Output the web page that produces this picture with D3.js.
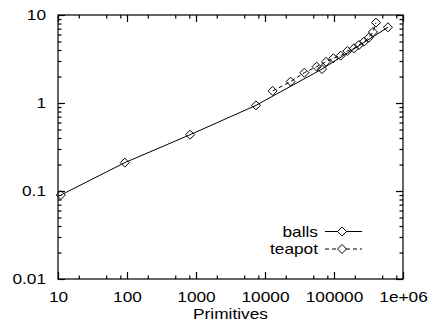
<!DOCTYPE html>
<html>
<head>
<meta charset="utf-8">
<script src="https://cdn.jsdelivr.net/npm/d3@7"></script>
<style>
    html, body { margin: 0; padding: 0; background: #fff; }
    svg { display: block; }
    text { font-family: "Liberation Sans", Arial, Helvetica, sans-serif; font-size: 15px; fill: #000; }
</style>
</head>
<body>
<div id="chart"></div>
<script>
// balls (solid line)
var ballsX = [11, 93, 820, 7400, 67000, 605000];
var ballsY = [0.09, 0.21, 0.436, 0.94, 2.43, 7.25];

// teapot (dashed line)
var teapotX = [12900, 23500, 37200, 56100, 76600, 97700, 125000, 156000, 195000, 230000, 272000, 318000, 367000, 406000];
var teapotY = [1.37, 1.75, 2.21, 2.59, 2.94, 3.22, 3.45, 3.90, 4.19, 4.56, 4.97, 5.52, 6.41, 8.2];

var xTicks = [10, 100, 1000, 10000, 100000, 1000000];
var xTickLabels = ['10', '100', '1000', '10000', '100000', '1e+06'];
var yTicks = [0.01, 0.1, 1, 10];
var yTickLabels = ['0.01', '0.1', '1', '10'];
var xMinorSteps = [2, 5, 8];
var yMinorSteps = [2, 3, 4, 5, 6, 7, 8, 9];

var seriesNames = ['balls', 'teapot'];

var W = 430, H = 327;
var plot = {left: 58, right: 403, top: 15, bottom: 279};
var stretch = 1.15; // the reference font is a bit wide

var svg = d3.select('#chart')
    .append('svg')
    .attr('width', W)
    .attr('height', H)
    ;

var x = d3.scaleLog().domain([10, 1e6]).range([plot.left, plot.right]);
var y = d3.scaleLog().domain([0.01, 10]).range([plot.bottom, plot.top]);

function minorTicks(majors, steps) {
    var out = [];
    majors.slice(0, -1).forEach(function(m) {
        steps.forEach(function(s) { out.push(m * s); });
    });
    return out;
}

function widen(sel) {
    sel.each(function() {
        var len = this.getComputedTextLength();
        d3.select(this)
            .attr('textLength', len * stretch)
            .attr('lengthAdjust', 'spacingAndGlyphs');
    });
}

// frame
svg.append('rect')
    .attr('x', plot.left)
    .attr('y', plot.top)
    .attr('width', plot.right - plot.left)
    .attr('height', plot.bottom - plot.top)
    .attr('fill', 'none')
    .attr('stroke', '#000')
    .attr('stroke-width', 1.2)
    ;

function addAxis(axis, tx, ty) {
    var g = svg.append('g')
        .attr('transform', 'translate(' + tx + ',' + ty + ')')
        .call(axis);
    g.select('.domain').remove();
    g.selectAll('line').attr('stroke', '#000').attr('stroke-width', 1.2);
    g.selectAll('text').style('font-size', null).attr('font-family', null).attr('fill', '#000');
    return g;
}

// bottom & top
var xb = addAxis(d3.axisBottom(x).tickValues(xTicks).tickSize(-7).tickPadding(12)
    .tickFormat(function(d, i) { return xTickLabels[i]; }), 0, plot.bottom);
xb.selectAll('text').call(widen);
addAxis(d3.axisBottom(x).tickValues(minorTicks(xTicks, xMinorSteps)).tickSize(-3.5).tickFormat(''), 0, plot.bottom);
addAxis(d3.axisTop(x).tickValues(xTicks).tickSize(-7).tickFormat(''), 0, plot.top);
addAxis(d3.axisTop(x).tickValues(minorTicks(xTicks, xMinorSteps)).tickSize(-3.5).tickFormat(''), 0, plot.top);

// left & right
var yl = addAxis(d3.axisLeft(y).tickValues(yTicks).tickSize(-7).tickPadding(12)
    .tickFormat(function(d, i) { return yTickLabels[i]; }), plot.left, 0);
yl.selectAll('text').call(widen);
addAxis(d3.axisLeft(y).tickValues(minorTicks(yTicks, yMinorSteps)).tickSize(-3.5).tickFormat(''), plot.left, 0);
addAxis(d3.axisRight(y).tickValues(yTicks).tickSize(-7).tickFormat(''), plot.right, 0);
addAxis(d3.axisRight(y).tickValues(minorTicks(yTicks, yMinorSteps)).tickSize(-3.5).tickFormat(''), plot.right, 0);

svg.append('text')
    .attr('x', (plot.left + plot.right) / 2)
    .attr('y', 319)
    .attr('text-anchor', 'middle')
    .text('Primitives')
    .call(widen)
    ;

// series
var diamond = 'M0,-4.5L4.5,0L0,4.5L-4.5,0Z';
var line = d3.line()
    .x(function(d) { return x(d[0]); })
    .y(function(d) { return y(d[1]); })
    ;

function drawSeries(xs, ys, dash) {
    var pts = xs.map(function(v, i) { return [v, ys[i]]; });
    var g = svg.append('g');
    g.append('path')
        .attr('d', line(pts))
        .attr('fill', 'none')
        .attr('stroke', '#000')
        .attr('stroke-width', 1)
        .attr('stroke-dasharray', dash)
        ;
    g.selectAll('path.pt')
        .data(pts)
        .enter()
        .append('path')
        .attr('class', 'pt')
        .attr('d', diamond)
        .attr('transform', function(d) { return 'translate(' + x(d[0]) + ',' + y(d[1]) + ')'; })
        .attr('fill', 'none')
        .attr('stroke', '#000')
        .attr('stroke-width', 1)
        ;
}

drawSeries(ballsX, ballsY, null);
drawSeries(teapotX, teapotY, '4,3');

// legend
var legend = svg.append('g');
seriesNames.forEach(function(name, i) {
    var ly = 231.5 + i * 17.5;
    legend.append('text')
        .attr('x', 318)
        .attr('y', ly)
        .attr('dy', '0.35em')
        .attr('text-anchor', 'end')
        .text(name)
        .call(widen)
        ;
    legend.append('line')
        .attr('x1', 325)
        .attr('x2', 362)
        .attr('y1', ly)
        .attr('y2', ly)
        .attr('stroke', '#000')
        .attr('stroke-width', 1)
        .attr('stroke-dasharray', i === 1 ? '4,3' : null)
        ;
    legend.append('path')
        .attr('d', diamond)
        .attr('transform', 'translate(342,' + ly + ')')
        .attr('fill', '#fff')
        .attr('stroke', '#000')
        .attr('stroke-width', 1)
        ;
});
</script>
</body>
</html>
